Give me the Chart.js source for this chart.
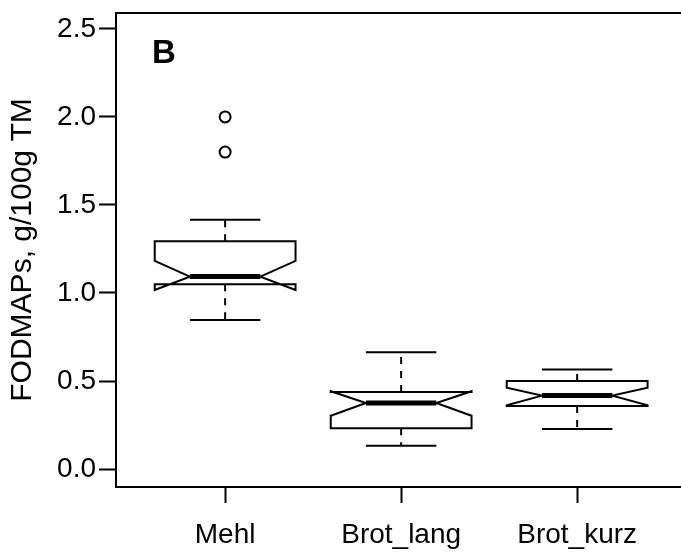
<!DOCTYPE html>
<html>
<head>
<meta charset="utf-8">
<script src="https://cdn.jsdelivr.net/npm/chart.js@4"></script>
<style>
  html, body { margin: 0; padding: 0; background: #fff; }
  canvas { display: block; }
</style>
</head>
<body>
<canvas id="boxCanvas" width="681" height="553"></canvas>
<script>
// data
const categories = ['Mehl', 'Brot_lang', 'Brot_kurz'];
const whiskerLow = [0.847, 0.132, 0.227];
const q1 = [1.049, 0.231, 0.358];
const median = [1.093, 0.375, 0.417];
const q3 = [1.294, 0.437, 0.500];
const whiskerHigh = [1.416, 0.663, 0.566];
const notchLow = [1.017, 0.303, 0.362];
const notchHigh = [1.182, 0.442, 0.462];
const outliers = [[1.8, 2.0], [], []];
const yTicks = [0.0, 0.5, 1.0, 1.5, 2.0, 2.5];

const FONT = "'Liberation Sans', Arial, sans-serif";

const outlierPoints = [];
outliers.forEach((vals, i) => {
    vals.forEach(v => outlierPoints.push({ x: i + 1, y: v }));
});

// draws the notched boxes, whiskers and the frame
const boxPlugin = {
    id: 'notchedBoxes',
    afterDatasetsDraw(chart) {
        const ctx = chart.ctx;
        const xs = chart.scales.x;
        const ys = chart.scales.y;
        const area = chart.chartArea;
        ctx.save();
        ctx.strokeStyle = '#000';
        ctx.lineCap = 'butt';

        categories.forEach((cat, i) => {
            const c = i + 1;
            const X = v => xs.getPixelForValue(v);
            const Y = v => ys.getPixelForValue(v);
            const bw = 0.4, nw = 0.2, sw = 0.2;

            // whiskers
            ctx.lineWidth = 2;
            ctx.setLineDash([7, 7]);
            ctx.beginPath();
            ctx.moveTo(X(c), Y(q3[i]));
            ctx.lineTo(X(c), Y(whiskerHigh[i]));
            ctx.moveTo(X(c), Y(q1[i]));
            ctx.lineTo(X(c), Y(whiskerLow[i]));
            ctx.stroke();
            ctx.setLineDash([]);

            // staples
            ctx.beginPath();
            ctx.moveTo(X(c - sw), Y(whiskerHigh[i]));
            ctx.lineTo(X(c + sw), Y(whiskerHigh[i]));
            ctx.moveTo(X(c - sw), Y(whiskerLow[i]));
            ctx.lineTo(X(c + sw), Y(whiskerLow[i]));
            ctx.stroke();

            // notched box outline
            ctx.beginPath();
            ctx.moveTo(X(c - bw), Y(q1[i]));
            ctx.lineTo(X(c - bw), Y(notchLow[i]));
            ctx.lineTo(X(c - nw), Y(median[i]));
            ctx.lineTo(X(c - bw), Y(notchHigh[i]));
            ctx.lineTo(X(c - bw), Y(q3[i]));
            ctx.lineTo(X(c + bw), Y(q3[i]));
            ctx.lineTo(X(c + bw), Y(notchHigh[i]));
            ctx.lineTo(X(c + nw), Y(median[i]));
            ctx.lineTo(X(c + bw), Y(notchLow[i]));
            ctx.lineTo(X(c + bw), Y(q1[i]));
            ctx.closePath();
            ctx.lineJoin = 'miter';
            ctx.stroke();

            // median
            ctx.lineWidth = 5;
            ctx.beginPath();
            ctx.moveTo(X(c - nw), Y(median[i]));
            ctx.lineTo(X(c + nw), Y(median[i]));
            ctx.stroke();
        });

        // top edge of the frame
        ctx.lineWidth = 2;
        ctx.beginPath();
        ctx.moveTo(area.left - 1, area.top);
        ctx.lineTo(area.right, area.top);
        ctx.stroke();

        // panel letter
        ctx.fillStyle = '#000';
        ctx.font = 'bold 33px ' + FONT;
        ctx.textBaseline = 'alphabetic';
        ctx.textAlign = 'left';
        ctx.fillText('B', area.left + 36, area.top + 50);
        ctx.restore();
    }
};

const ctx = document.getElementById('boxCanvas').getContext('2d');
new Chart(ctx, {
    type: 'scatter',
    data: {
        datasets: [{
            label: 'Ausreißer',
            data: outlierPoints,
            pointStyle: 'circle',
            pointRadius: 5.5,
            pointBorderWidth: 2,
            borderColor: '#000',
            backgroundColor: 'rgba(0,0,0,0)',
            pointHoverRadius: 5.5,
            clip: false
        }]
    },
    options: {
        responsive: false,
        animation: false,
        devicePixelRatio: 1,
        layout: { autoPadding: false, padding: { top: 13, right: 0, left: 0, bottom: 0 } },
        plugins: {
            legend: { display: false },
            tooltip: { enabled: false }
        },
        scales: {
            x: {
                type: 'linear',
                min: 0.38,
                max: 3.59,
                afterFit: scale => { scale.height = 66; scale.paddingLeft = 0; scale.paddingRight = 0; },
                afterBuildTicks: scale => {
                    scale.ticks = categories.map((c, i) => ({ value: i + 1 }));
                },
                ticks: {
                    color: '#000',
                    font: { family: FONT, size: 28 },
                    padding: 15,
                    maxRotation: 0,
                    autoSkip: false,
                    callback: v => categories[v - 1]
                },
                grid: {
                    drawOnChartArea: false,
                    drawTicks: true,
                    tickLength: 16,
                    tickWidth: 2,
                    tickColor: '#000'
                },
                border: { display: true, color: '#000', width: 2 }
            },
            y: {
                min: -0.102,
                max: 2.59,
                afterFit: scale => { scale.width = 116; scale.paddingTop = 0; scale.paddingBottom = 0; },
                afterBuildTicks: scale => {
                    scale.ticks = yTicks.map(v => ({ value: v }));
                },
                ticks: {
                    color: '#000',
                    font: { family: FONT, size: 28 },
                    padding: 3,
                    callback: v => v.toFixed(1)
                },
                grid: {
                    drawOnChartArea: false,
                    drawTicks: true,
                    tickLength: 17,
                    tickWidth: 2,
                    tickColor: '#000'
                },
                border: { display: true, color: '#000', width: 2 },
                title: {
                    display: true,
                    text: 'FODMAPs, g/100g TM',
                    color: '#000',
                    font: { family: FONT, size: 30 },
                    padding: { top: 5, bottom: 0 }
                }
            }
        }
    },
    plugins: [boxPlugin]
});
</script>
</body>
</html>
